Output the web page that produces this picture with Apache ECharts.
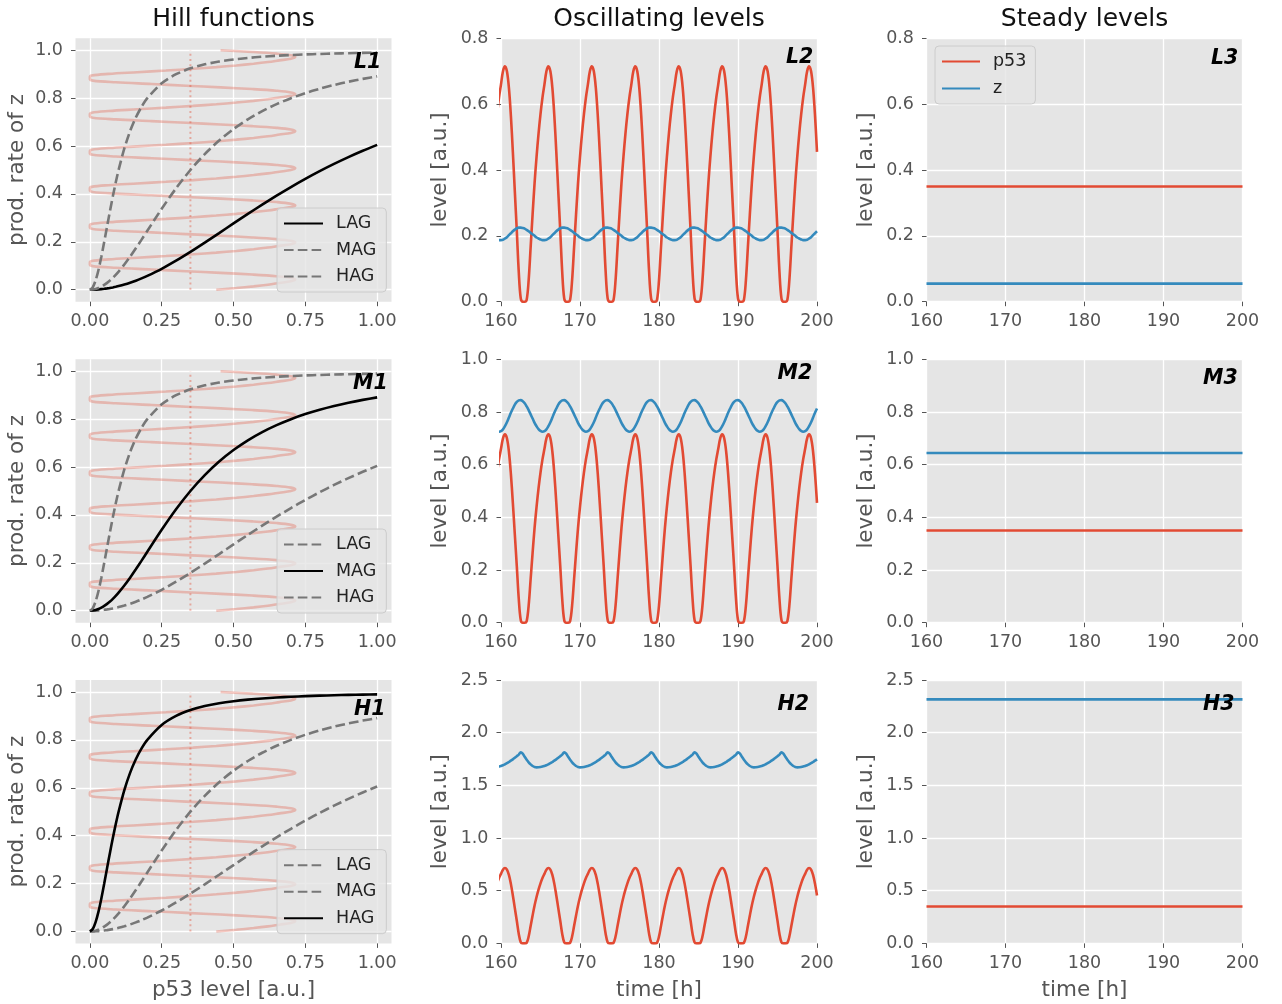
<!DOCTYPE html>
<html>
<head>
<meta charset="utf-8">
<title>p53 – z feedback: Hill functions and levels</title>
<script src="https://cdn.jsdelivr.net/npm/echarts/dist/echarts.min.js"></script>
<style>
  html, body { margin: 0; padding: 0; background: #ffffff; }
  #chart { width: 1282px; height: 1004px; }
</style>
</head>
<body>
<div id="chart"></div>
<script>
// ---------------------------------------------------------------------------
// Data
// ---------------------------------------------------------------------------

// Sampling times of the simulated trajectories [h]
const time = [
  159.5, 159.75,
  160, 160.25, 160.5, 160.75, 161, 161.25, 161.5, 161.75, 162, 162.25, 162.5, 162.75, 163, 163.25, 163.5, 163.75, 164, 164.25, 164.5, 164.75,
  165, 165.25, 165.5, 165.75, 166, 166.25, 166.5, 166.75, 167, 167.25, 167.5, 167.75, 168, 168.25, 168.5, 168.75, 169, 169.25, 169.5, 169.75,
  170, 170.25, 170.5, 170.75, 171, 171.25, 171.5, 171.75, 172, 172.25, 172.5, 172.75, 173, 173.25, 173.5, 173.75, 174, 174.25, 174.5, 174.75,
  175, 175.25, 175.5, 175.75, 176, 176.25, 176.5, 176.75, 177, 177.25, 177.5, 177.75, 178, 178.25, 178.5, 178.75, 179, 179.25, 179.5, 179.75,
  180, 180.25, 180.5, 180.75, 181, 181.25, 181.5, 181.75, 182, 182.25, 182.5, 182.75, 183, 183.25, 183.5, 183.75, 184, 184.25, 184.5, 184.75,
  185, 185.25, 185.5, 185.75, 186, 186.25, 186.5, 186.75, 187, 187.25, 187.5, 187.75, 188, 188.25, 188.5, 188.75, 189, 189.25, 189.5, 189.75,
  190, 190.25, 190.5, 190.75, 191, 191.25, 191.5, 191.75, 192, 192.25, 192.5, 192.75, 193, 193.25, 193.5, 193.75, 194, 194.25, 194.5, 194.75,
  195, 195.25, 195.5, 195.75, 196, 196.25, 196.5, 196.75, 197, 197.25, 197.5, 197.75, 198, 198.25, 198.5, 198.75, 199, 199.25, 199.5, 199.75,
  200
];

// Oscillating p53 level (identical input for all three affinity classes)
const p53Osc = [
  0.570, 0.620, 0.660, 0.700,
  0.715, 0.700, 0.650, 0.565, 0.455, 0.335, 0.215, 0.090, 0.010, 0.000, 0.000, 0.006, 0.065, 0.165, 0.265, 0.360, 0.440, 0.510, 0.570, 0.620, 0.660, 0.700,
  0.715, 0.700, 0.650, 0.565, 0.455, 0.335, 0.215, 0.090, 0.010, 0.000, 0.000, 0.006, 0.065, 0.165, 0.265, 0.360, 0.440, 0.510, 0.570, 0.620, 0.660, 0.700,
  0.715, 0.700, 0.650, 0.565, 0.455, 0.335, 0.215, 0.090, 0.010, 0.000, 0.000, 0.006, 0.065, 0.165, 0.265, 0.360, 0.440, 0.510, 0.570, 0.620, 0.660, 0.700,
  0.715, 0.700, 0.650, 0.565, 0.455, 0.335, 0.215, 0.090, 0.010, 0.000, 0.000, 0.006, 0.065, 0.165, 0.265, 0.360, 0.440, 0.510, 0.570, 0.620, 0.660, 0.700,
  0.715, 0.700, 0.650, 0.565, 0.455, 0.335, 0.215, 0.090, 0.010, 0.000, 0.000, 0.006, 0.065, 0.165, 0.265, 0.360, 0.440, 0.510, 0.570, 0.620, 0.660, 0.700,
  0.715, 0.700, 0.650, 0.565, 0.455, 0.335, 0.215, 0.090, 0.010, 0.000, 0.000, 0.006, 0.065, 0.165, 0.265, 0.360, 0.440, 0.510, 0.570, 0.620, 0.660, 0.700,
  0.715, 0.700, 0.650, 0.565, 0.455, 0.335, 0.215, 0.090, 0.010, 0.000, 0.000, 0.006, 0.065, 0.165, 0.265, 0.360, 0.440, 0.510, 0.570, 0.620, 0.660, 0.700,
  0.715, 0.700, 0.650, 0.565, 0.455
];

// Target z under oscillating p53: low / medium / high affinity gene
const zLowOsc = [
  0.189, 0.187, 0.187, 0.188,
  0.192, 0.196, 0.202, 0.208, 0.214, 0.219, 0.223, 0.225, 0.225, 0.224, 0.222, 0.218, 0.214, 0.209, 0.205, 0.200, 0.195, 0.192, 0.189, 0.187, 0.187, 0.188,
  0.192, 0.196, 0.202, 0.208, 0.214, 0.219, 0.223, 0.225, 0.225, 0.224, 0.222, 0.218, 0.214, 0.209, 0.205, 0.200, 0.195, 0.192, 0.189, 0.187, 0.187, 0.188,
  0.192, 0.196, 0.202, 0.208, 0.214, 0.219, 0.223, 0.225, 0.225, 0.224, 0.222, 0.218, 0.214, 0.209, 0.205, 0.200, 0.195, 0.192, 0.189, 0.187, 0.187, 0.188,
  0.192, 0.196, 0.202, 0.208, 0.214, 0.219, 0.223, 0.225, 0.225, 0.224, 0.222, 0.218, 0.214, 0.209, 0.205, 0.200, 0.195, 0.192, 0.189, 0.187, 0.187, 0.188,
  0.192, 0.196, 0.202, 0.208, 0.214, 0.219, 0.223, 0.225, 0.225, 0.224, 0.222, 0.218, 0.214, 0.209, 0.205, 0.200, 0.195, 0.192, 0.189, 0.187, 0.187, 0.188,
  0.192, 0.196, 0.202, 0.208, 0.214, 0.219, 0.223, 0.225, 0.225, 0.224, 0.222, 0.218, 0.214, 0.209, 0.205, 0.200, 0.195, 0.192, 0.189, 0.187, 0.187, 0.188,
  0.192, 0.196, 0.202, 0.208, 0.214, 0.219, 0.223, 0.225, 0.225, 0.224, 0.222, 0.218, 0.214, 0.209, 0.205, 0.200, 0.195, 0.192, 0.189, 0.187, 0.187, 0.188,
  0.192, 0.196, 0.202, 0.208, 0.214
];

const zMidOsc = [
  0.728, 0.725, 0.727, 0.734,
  0.746, 0.761, 0.779, 0.797, 0.813, 0.828, 0.838, 0.844, 0.845, 0.841, 0.833, 0.821, 0.807, 0.791, 0.775, 0.759, 0.746, 0.735, 0.728, 0.725, 0.727, 0.734,
  0.746, 0.761, 0.779, 0.797, 0.813, 0.828, 0.838, 0.844, 0.845, 0.841, 0.833, 0.821, 0.807, 0.791, 0.775, 0.759, 0.746, 0.735, 0.728, 0.725, 0.727, 0.734,
  0.746, 0.761, 0.779, 0.797, 0.813, 0.828, 0.838, 0.844, 0.845, 0.841, 0.833, 0.821, 0.807, 0.791, 0.775, 0.759, 0.746, 0.735, 0.728, 0.725, 0.727, 0.734,
  0.746, 0.761, 0.779, 0.797, 0.813, 0.828, 0.838, 0.844, 0.845, 0.841, 0.833, 0.821, 0.807, 0.791, 0.775, 0.759, 0.746, 0.735, 0.728, 0.725, 0.727, 0.734,
  0.746, 0.761, 0.779, 0.797, 0.813, 0.828, 0.838, 0.844, 0.845, 0.841, 0.833, 0.821, 0.807, 0.791, 0.775, 0.759, 0.746, 0.735, 0.728, 0.725, 0.727, 0.734,
  0.746, 0.761, 0.779, 0.797, 0.813, 0.828, 0.838, 0.844, 0.845, 0.841, 0.833, 0.821, 0.807, 0.791, 0.775, 0.759, 0.746, 0.735, 0.728, 0.725, 0.727, 0.734,
  0.746, 0.761, 0.779, 0.797, 0.813, 0.828, 0.838, 0.844, 0.845, 0.841, 0.833, 0.821, 0.807, 0.791, 0.775, 0.759, 0.746, 0.735, 0.728, 0.725, 0.727, 0.734,
  0.746, 0.761, 0.779, 0.797, 0.813
];

const zHighOsc = [
  1.674, 1.678, 1.684, 1.691,
  1.700, 1.710, 1.722, 1.734, 1.747, 1.762, 1.777, 1.792, 1.813, 1.801, 1.771, 1.743, 1.719, 1.699, 1.684, 1.675, 1.671, 1.672, 1.674, 1.678, 1.684, 1.691,
  1.700, 1.710, 1.722, 1.734, 1.747, 1.762, 1.777, 1.792, 1.813, 1.801, 1.771, 1.743, 1.719, 1.699, 1.684, 1.675, 1.671, 1.672, 1.674, 1.678, 1.684, 1.691,
  1.700, 1.710, 1.722, 1.734, 1.747, 1.762, 1.777, 1.792, 1.813, 1.801, 1.771, 1.743, 1.719, 1.699, 1.684, 1.675, 1.671, 1.672, 1.674, 1.678, 1.684, 1.691,
  1.700, 1.710, 1.722, 1.734, 1.747, 1.762, 1.777, 1.792, 1.813, 1.801, 1.771, 1.743, 1.719, 1.699, 1.684, 1.675, 1.671, 1.672, 1.674, 1.678, 1.684, 1.691,
  1.700, 1.710, 1.722, 1.734, 1.747, 1.762, 1.777, 1.792, 1.813, 1.801, 1.771, 1.743, 1.719, 1.699, 1.684, 1.675, 1.671, 1.672, 1.674, 1.678, 1.684, 1.691,
  1.700, 1.710, 1.722, 1.734, 1.747, 1.762, 1.777, 1.792, 1.813, 1.801, 1.771, 1.743, 1.719, 1.699, 1.684, 1.675, 1.671, 1.672, 1.674, 1.678, 1.684, 1.691,
  1.700, 1.710, 1.722, 1.734, 1.747, 1.762, 1.777, 1.792, 1.813, 1.801, 1.771, 1.743, 1.719, 1.699, 1.684, 1.675, 1.671, 1.672, 1.674, 1.678, 1.684, 1.691,
  1.700, 1.710, 1.722, 1.734, 1.747
];

// Steady-state levels (constant p53 input)
const steadyTime = [160, 200];
const p53Steady = 0.35;
const zSteadyLow = 0.055;
const zSteadyMid = 0.644;
const zSteadyHigh = 2.316;

// Hill activation functions: production rate of z versus p53 level
const hillX = [0, 0.01, 0.02, 0.03, 0.04, 0.05, 0.06, 0.07, 0.08, 0.09, 0.10, 0.12, 0.14, 0.16, 0.18, 0.20,
               0.25, 0.30, 0.35, 0.40, 0.45, 0.50, 0.55, 0.60, 0.65, 0.70, 0.75, 0.80, 0.85, 0.90, 0.95, 1.00];
const hillLAG = [0, 0.0002, 0.0006, 0.0014, 0.0024, 0.0038, 0.0055, 0.0074, 0.0097, 0.0123, 0.0151, 0.0216, 0.0291, 0.0377, 0.0473, 0.0577,
                 0.0874, 0.1211, 0.1580, 0.1968, 0.2367, 0.2769, 0.3166, 0.3554, 0.3928, 0.4287, 0.4628, 0.4950, 0.5253, 0.5537, 0.5802, 0.6050];
const hillMAG = [0, 0.0008, 0.0033, 0.0073, 0.0129, 0.0200, 0.0285, 0.0385, 0.0497, 0.0620, 0.0755, 0.1052, 0.1379, 0.1729, 0.2092, 0.2462,
                 0.3378, 0.4235, 0.5000, 0.5664, 0.6231, 0.6711, 0.7118, 0.7461, 0.7752, 0.8000, 0.8212, 0.8393, 0.8550, 0.8686, 0.8805, 0.8909];
const hillHAG = [0, 0.0099, 0.0385, 0.0826, 0.1379, 0.2000, 0.2647, 0.3289, 0.3902, 0.4475, 0.5000, 0.5902, 0.6622, 0.7191, 0.7642, 0.8000,
                 0.8621, 0.9000, 0.9245, 0.9412, 0.9529, 0.9615, 0.9680, 0.9730, 0.9769, 0.9800, 0.9825, 0.9846, 0.9863, 0.9878, 0.9890, 0.9901];

// Time window of the p53 trace drawn (normalised to 0..1) behind the Hill curves
const p53TraceWindow = [164.5, 200];

// Tick labels
const hillXTicks = [0, 0.25, 0.5, 0.75, 1.0];
const hillYTicks = [0, 0.2, 0.4, 0.6, 0.8, 1.0];
const timeTickStep = 10;
const levelMax = [0.8, 1.0, 2.5];
const levelStep = [0.2, 0.2, 0.5];

// Names
const rowTags = ['L', 'M', 'H'];
const geneNames = ['LAG', 'MAG', 'HAG'];
const columnTitles = ['Hill functions', 'Oscillating levels', 'Steady levels'];

// ---------------------------------------------------------------------------
// Layout and style
// ---------------------------------------------------------------------------
const FONT = '"DejaVu Sans", "Liberation Sans", sans-serif';
const RED = '#E24A33';
const BLUE = '#348ABD';
const LABEL_GREY = '#555555';

const colLeft = [75.5, 501, 926.5];
const colWidth = 316;
const rowTop = [38.3, 359.3, 680];
const rowHeight = 263.4;
const colCenter = colLeft.map(l => l + colWidth / 2);

const hillCurves = [hillLAG, hillMAG, hillHAG];
const zOsc = [zLowOsc, zMidOsc, zHighOsc];
const zSteady = [zSteadyLow, zSteadyMid, zSteadyHigh];

// panel tag placement: [left x, vertical centre y]
const tagPos = [
  [[354, 62.5], [786, 57.2], [1211, 58.4]],
  [[353, 383.9], [777.5, 373.9], [1203, 378.4]],
  [[354, 710], [777.5, 705.1], [1203, 705.1]]
];

// ---------------------------------------------------------------------------
// Build option
// ---------------------------------------------------------------------------
const grids = [], xAxes = [], yAxes = [], series = [], legends = [], graphics = [];

function baseAxis(gi, extra) {
  const ax = {
    type: 'value',
    gridIndex: gi,
    axisLine: { show: false, onZero: false },
    axisTick: { show: true, length: 4.5, lineStyle: { color: LABEL_GREY, width: 1 } },
    axisLabel: { color: LABEL_GREY, fontSize: 17.5, fontFamily: FONT },
    splitLine: { show: true, lineStyle: { color: '#ffffff', width: 1.3 } }
  };
  for (const k in extra) {
    if (typeof extra[k] === 'object' && !Array.isArray(extra[k]) && ax[k]) {
      ax[k] = Object.assign({}, ax[k], extra[k]);
    } else {
      ax[k] = extra[k];
    }
  }
  return ax;
}

const traceSpan = p53TraceWindow[1] - p53TraceWindow[0];
const p53Trace = [];
time.forEach((t, i) => {
  if (t >= p53TraceWindow[0]) p53Trace.push([p53Osc[i], (t - p53TraceWindow[0]) / traceSpan]);
});

for (let r = 0; r < 3; r++) {
  for (let c = 0; c < 3; c++) {
    const gi = r * 3 + c;
    grids.push({
      left: colLeft[c], top: rowTop[r], width: colWidth, height: rowHeight,
      show: true, backgroundColor: '#E5E5E5', borderWidth: 0,
      containLabel: false, outerBoundsMode: 'none'
    });

    if (c === 0) {
      xAxes.push(baseAxis(gi, {
        min: -0.05, max: 1.05,
        axisTick: { customValues: hillXTicks },
        axisLabel: { customValues: hillXTicks, margin: 11, formatter: v => v.toFixed(2) }
      }));
      yAxes.push(baseAxis(gi, {
        min: -0.05, max: 1.05,
        axisTick: { customValues: hillYTicks },
        axisLabel: { customValues: hillYTicks, margin: 12.5, formatter: v => v.toFixed(1) }
      }));

      // p53 trajectory, drawn sideways as a faint backdrop
      series.push({
        type: 'line', name: 'p53 trace ' + rowTags[r], xAxisIndex: gi, yAxisIndex: gi,
        data: p53Trace, showSymbol: false, symbol: 'none', smooth: 0.35,
        lineStyle: { color: 'rgba(226,74,51,0.3)', width: 2.6 }, silent: true, z: 1
      });
      // steady p53 level
      series.push({
        type: 'line', name: 'p53 steady ' + rowTags[r], xAxisIndex: gi, yAxisIndex: gi,
        data: [[p53Steady, 0], [p53Steady, 1]], showSymbol: false, symbol: 'none',
        lineStyle: { color: 'rgba(226,74,51,0.4)', width: 2, type: [2, 3.2] }, silent: true, z: 1
      });
      // Hill curves; the one belonging to this row is highlighted
      const legendNames = [];
      for (let g = 0; g < 3; g++) {
        const nm = geneNames[g] + ' ' + rowTags[r] + '1';
        legendNames.push(nm);
        const own = g === r;
        series.push({
          type: 'line', name: nm, xAxisIndex: gi, yAxisIndex: gi,
          data: hillX.map((x, i) => [x, hillCurves[g][i]]),
          showSymbol: false, symbol: 'none', smooth: 0.25,
          lineStyle: own ? { color: '#000000', width: 2.6 }
                         : { color: '#777777', width: 2.6, type: [9.6, 4.2] },
          z: 3
        });
      }
      legends.push({
        data: legendNames, orient: 'vertical', left: 277, top: rowTop[r] + 169.7,
        itemWidth: 39, itemHeight: 14, itemGap: 6.5, padding: [5.5, 10, 5.5, 6],
        backgroundColor: 'rgba(229,229,229,0.8)', borderColor: '#cccccc', borderWidth: 1, borderRadius: 4,
        itemStyle: { opacity: 0 }, selectedMode: false,
        formatter: name => name.split(' ')[0],
        textStyle: { fontSize: 17.5, fontFamily: FONT, color: '#222222', lineHeight: 20, padding: [0, 0, 0, 8] }
      });
    } else {
      xAxes.push(baseAxis(gi, {
        min: 160, max: 200, interval: timeTickStep,
        axisLabel: { margin: 11, formatter: v => String(v) }
      }));
      yAxes.push(baseAxis(gi, {
        min: 0, max: levelMax[r], interval: levelStep[r],
        axisLabel: { margin: 12.5, formatter: v => v.toFixed(1) }
      }));

      if (c === 1) {
        series.push({
          type: 'line', name: 'p53', xAxisIndex: gi, yAxisIndex: gi,
          data: time.map((t, i) => [t, p53Osc[i]]), showSymbol: false, symbol: 'none', smooth: 0.35,
          lineStyle: { color: RED, width: 2.6 }, z: 2
        });
        series.push({
          type: 'line', name: 'z', xAxisIndex: gi, yAxisIndex: gi,
          data: time.map((t, i) => [t, zOsc[r][i]]), showSymbol: false, symbol: 'none', smooth: 0.35,
          lineStyle: { color: BLUE, width: 2.6 }, z: 3
        });
      } else {
        series.push({
          type: 'line', name: 'p53', xAxisIndex: gi, yAxisIndex: gi,
          data: steadyTime.map(t => [t, p53Steady]), showSymbol: false, symbol: 'none',
          lineStyle: { color: RED, width: 2.6 }, z: 2
        });
        series.push({
          type: 'line', name: 'z', xAxisIndex: gi, yAxisIndex: gi,
          data: steadyTime.map(t => [t, zSteady[r]]), showSymbol: false, symbol: 'none',
          lineStyle: { color: BLUE, width: 2.6 }, z: 3
        });
      }
    }

    // panel tag (L1 ... H3)
    graphics.push({
      type: 'text', x: tagPos[r][c][0], y: tagPos[r][c][1], z: 100,
      style: {
        text: rowTags[r] + (c + 1), fill: '#000000',
        fontSize: 20.5, fontFamily: FONT, fontWeight: 'bold', fontStyle: 'italic',
        align: 'left', verticalAlign: 'middle'
      }
    });
  }

  // y-axis names
  const yMid = rowTop[r] + rowHeight / 2;
  const yNameX = [17.5, 440, 866];
  for (let c = 0; c < 3; c++) {
    graphics.push({
      type: 'text', x: yNameX[c], y: yMid, rotation: Math.PI / 2, z: 100,
      style: {
        text: c === 0 ? 'prod. rate of z' : 'level [a.u.]', fill: LABEL_GREY,
        fontSize: 21.5, fontFamily: FONT, align: 'center', verticalAlign: 'middle'
      }
    });
  }
}

// legend of the steady-state panel L3
legends.push({
  data: ['p53', 'z'], orient: 'vertical', left: 935, top: 46,
  itemWidth: 38, itemHeight: 14, itemGap: 7, padding: [5.5, 9, 5.5, 6],
  backgroundColor: 'rgba(229,229,229,0.8)', borderColor: '#cccccc', borderWidth: 1, borderRadius: 4,
  itemStyle: { opacity: 0 }, selectedMode: false,
  textStyle: { fontSize: 17.5, fontFamily: FONT, color: '#222222', lineHeight: 20, padding: [0, 0, 0, 8] }
});

// column titles
for (let c = 0; c < 3; c++) {
  graphics.push({
    type: 'text', x: colCenter[c], y: 19, z: 100,
    style: { text: columnTitles[c], fill: '#111111', fontSize: 25, fontFamily: FONT, align: 'center', verticalAlign: 'middle' }
  });
}
// x-axis names (bottom row)
const xNames = ['p53 level [a.u.]', 'time [h]', 'time [h]'];
for (let c = 0; c < 3; c++) {
  graphics.push({
    type: 'text', x: colCenter[c], y: 990, z: 100,
    style: { text: xNames[c], fill: LABEL_GREY, fontSize: 21.5, fontFamily: FONT, align: 'center', verticalAlign: 'middle' }
  });
}

const chart = echarts.init(document.getElementById('chart'), null, { renderer: 'canvas' });
chart.setOption({
  animation: false,
  backgroundColor: '#ffffff',
  textStyle: { fontFamily: FONT },
  grid: grids,
  xAxis: xAxes,
  yAxis: yAxes,
  legend: legends,
  series: series,
  graphic: graphics
});
</script>
</body>
</html>
